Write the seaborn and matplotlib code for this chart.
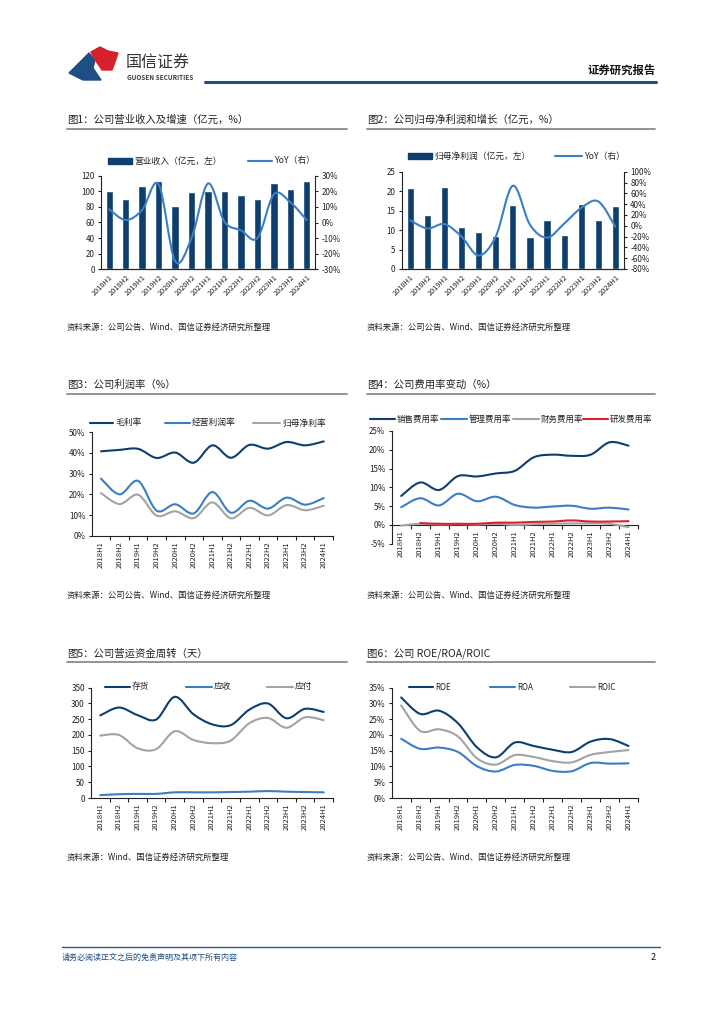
import numpy as np
import pandas as pd
import matplotlib
matplotlib.use('Agg')
import matplotlib.pyplot as plt
import seaborn as sns
from matplotlib.path import Path
from matplotlib.patches import PathPatch, Polygon, Rectangle
from matplotlib.lines import Line2D

# ---------------- data ----------------
periods = ['2018H1', '2018H2', '2019H1', '2019H2', '2020H1', '2020H2', '2021H1',
           '2021H2', '2022H1', '2022H2', '2023H1', '2023H2', '2024H1']

revenue = [100, 90, 107, 113, 81, 99, 101, 100, 95, 90, 111, 103, 113]
revenue_yoy = [8.4, 1.6, 8.0, 24.5, -24.7, -10.0, 25.0, 0.5, -5.0, -10.0, 18.0, 13.0, 1.5]

net_profit = [20.7, 13.8, 21.1, 10.8, 9.5, 8.4, 16.4, 8.3, 12.7, 8.8, 16.7, 12.7, 16.3]
net_profit_yoy = [10, -5, 3, -20, -55, -20, 74, 2, -22, 4, 33, 45, -2]

gross_margin = [40.8, 41.5, 42.0, 37.6, 40.2, 35.3, 43.7, 37.7, 43.9, 42.1, 45.3, 43.7, 45.6]
op_margin = [27.6, 20.0, 26.5, 12.1, 15.2, 10.8, 21.1, 11.1, 16.9, 13.1, 18.4, 15.0, 18.2]
net_margin = [20.6, 15.3, 19.8, 9.7, 11.8, 8.5, 16.1, 8.4, 13.5, 9.8, 14.8, 12.3, 14.5]

selling_ratio = [7.7, 11.3, 9.3, 13.0, 12.9, 13.7, 14.4, 18.0, 18.7, 18.4, 18.7, 22.0, 21.1]
admin_ratio = [4.7, 7.1, 5.2, 8.3, 6.3, 7.5, 5.3, 4.6, 4.9, 5.1, 4.3, 4.6, 4.1]
finance_ratio = [-0.2, 0.3, 0.1, 0.2, 0.1, 0.3, 0.0, 0.2, 0.3, 0.4, 0.4, 0.3, -0.6]
rd_ratio = [np.nan, 0.5, 0.3, 0.3, 0.3, 0.6, 0.6, 0.8, 0.9, 1.2, 0.9, 0.9, 1.0]

inventory_days = [262, 287, 263, 249, 321, 266, 234, 231, 280, 300, 253, 283, 273]
receivable_days = [9, 12, 13, 13, 18, 18, 18, 19, 20, 22, 20, 19, 18]
payable_days = [198, 200, 158, 155, 212, 184, 174, 182, 237, 254, 223, 256, 247]

roe = [31.9, 26.7, 27.7, 23.7, 16.1, 12.9, 17.6, 16.5, 15.3, 14.6, 17.9, 18.7, 16.5]
roa = [18.8, 15.6, 16.0, 14.6, 10.1, 8.4, 10.5, 10.2, 8.6, 8.5, 11.1, 10.9, 11.0]
roic = [29.4, 21.3, 21.8, 19.5, 12.6, 10.6, 13.6, 13.0, 11.7, 11.3, 13.7, 14.6, 15.2]

# ---------------- style ----------------
sns.set_theme(style='ticks')
plt.rcParams['font.family'] = ['Noto Sans CJK SC', 'DejaVu Sans']
plt.rcParams['axes.unicode_minus'] = False
plt.rcParams['axes.linewidth'] = 0.8
plt.rcParams['xtick.color'] = '#222222'
plt.rcParams['ytick.color'] = '#222222'

NAVY = '#0d3e6e'
BLUE = '#3a7fc6'
GRAY = '#a3a3a3'
RED = '#d8232f'
TXT = '#222222'

W, H = 724, 1024
fig = plt.figure(figsize=(7.24, 10.24), dpi=100)


def rect(x0, y0, x1, y1):
    return [x0 / W, 1 - y1 / H, (x1 - x0) / W, (y1 - y0) / H]


def fx(x):
    return x / W


def fy(y):
    return 1 - y / H


def smooth(ax, ys, color, lw=1.5, zorder=3):
    pts = [(i, v) for i, v in enumerate(ys) if not np.isnan(v)]
    P = np.array(pts, dtype=float)
    n = len(P)
    verts = [P[0]]
    codes = [Path.MOVETO]
    for i in range(n - 1):
        p0 = P[i - 1] if i > 0 else P[i]
        p1 = P[i]
        p2 = P[i + 1]
        p3 = P[i + 2] if i + 2 < n else P[i + 1]
        c1 = p1 + (p2 - p0) / 6.0
        c2 = p2 - (p3 - p1) / 6.0
        verts += [c1, c2, p2]
        codes += [Path.CURVE4] * 3
    ax.add_patch(PathPatch(Path(verts, codes), fill=False, edgecolor=color,
                           lw=lw, capstyle='round', joinstyle='round', zorder=zorder))


def leg_line(x0, x1, y, color, label, lw=1.5, fs=6.3):
    fig.add_artist(Line2D([fx(x0), fx(x1)], [fy(y), fy(y)], color=color, lw=lw,
                          transform=fig.transFigure))
    fig.text(fx(x1 + 2), fy(y), label, fontsize=fs, va='center', ha='left', color=TXT)


def leg_box(x0, x1, y, color, label, h=6, fs=6.3):
    fig.add_artist(Rectangle((fx(x0), fy(y + h / 2)), fx(x1) - fx(x0), h / H,
                             color=color, transform=fig.transFigure))
    fig.text(fx(x1 + 2), fy(y), label, fontsize=fs, va='center', ha='left', color=TXT)


def title(x0, x1, y, text, line_y):
    fig.text(fx(x0), fy(y), text, fontsize=7.5, va='center', ha='left', color=TXT)
    fig.add_artist(Line2D([fx(x0), fx(x1)], [fy(line_y), fy(line_y)], color='#8a8a8a',
                          lw=1.3, transform=fig.transFigure))


def source(x0, y, text):
    fig.text(fx(x0), fy(y), text, fontsize=6, va='center', ha='left', color=TXT)


def pct(vals):
    return ['%d%%' % v for v in vals]


def line_axes(r, ylim, yticks, ylabels, zero_spine=False):
    ax = fig.add_axes(r)
    sns.despine(ax=ax)
    if zero_spine:
        ax.spines['bottom'].set_position(('data', 0))
    ax.set_xlim(-0.5, 12.5)
    ax.set_ylim(*ylim)
    ax.set_xticks(range(13))
    ax.set_xticklabels(periods, rotation=90, fontsize=5.5, color=TXT)
    ax.tick_params(axis='x', which='major', length=0, pad=4)
    ax.set_xticks(np.arange(0.5, 13, 1), minor=True)
    ax.tick_params(axis='x', which='minor', length=3, width=0.8, direction='out')
    ax.set_yticks(yticks)
    ax.set_yticklabels(ylabels, fontsize=5.8, color=TXT)
    ax.tick_params(axis='y', length=2.5, width=0.8, direction='out', pad=2)
    for s in ['left', 'bottom']:
        ax.spines[s].set_color('#222222')
    return ax


# ---------------- header ----------------
fig.add_artist(Polygon([(fx(69), fy(73)), (fx(89), fy(53)), (fx(95), fy(60)),
                        (fx(93), fy(68)), (fx(101), fy(80)), (fx(83), fy(80))],
                       closed=True, color='#1d4f86', transform=fig.transFigure))
fig.add_artist(Polygon([(fx(91), fy(52)), (fx(100), fy(47)), (fx(108), fy(51)),
                        (fx(118), fy(53)), (fx(115), fy(62)), (fx(112), fy(70)),
                        (fx(102), fy(70)), (fx(96), fy(61))],
                       closed=True, color='#d8202c', transform=fig.transFigure))
fig.text(fx(126), fy(63), '国信证券', fontsize=11.5, va='center', ha='left', color='#333333',
         fontweight='medium')
fig.text(fx(127), fy(77), 'GUOSEN SECURITIES', fontsize=4.6, va='center', ha='left',
         color='#3c3c3c', fontweight='bold')
fig.text(fx(656), fy(70), '证券研究报告', fontsize=8.2, va='center', ha='right',
         color='#111111', fontweight='bold')
fig.add_artist(Line2D([fx(205), fx(656)], [fy(81.5), fy(81.5)], color='#1f4f82', lw=2.2,
                      transform=fig.transFigure))

# ---------------- Fig 1 ----------------
title(67, 347, 120, '图1：公司营业收入及增速（亿元，%）', 128.5)
ax1 = fig.add_axes(rect(101, 175.7, 315, 269.3))
df1 = pd.DataFrame({'period': periods, 'value': revenue})
sns.barplot(data=df1, x='period', y='value', color=NAVY, width=0.45, saturation=1, ax=ax1)
ax1.set_xlim(-0.5, 12.5)
ax1.set_ylim(0, 120)
ax1.set_xlabel('')
ax1.set_ylabel('')
ax1.set_yticks(range(0, 121, 20))
ax1.set_yticklabels([str(v) for v in range(0, 121, 20)], fontsize=5.8, color=TXT)
ax1.set_xticks(range(13))
ax1.set_xticklabels(periods, rotation=45, ha='right', rotation_mode='anchor', fontsize=5.3, color=TXT)
ax1.tick_params(axis='x', length=0, pad=3)
ax1.tick_params(axis='y', length=2.5, width=0.8, direction='out', pad=2)
ax1.spines['top'].set_visible(False)
ax1.spines['right'].set_visible(False)
ax1b = ax1.twinx()
smooth(ax1b, revenue_yoy, BLUE)
ax1b.set_ylim(-30, 30)
ax1b.set_yticks(range(-30, 31, 10))
ax1b.set_yticklabels(pct(range(-30, 31, 10)), fontsize=5.8, color=TXT)
ax1b.tick_params(axis='y', length=2.5, width=0.8, direction='out', pad=2)
ax1b.spines['top'].set_visible(False)
ax1b.spines['left'].set_visible(False)
ax1b.spines['right'].set_color('#222222')
ax1.spines['left'].set_color('#222222')
ax1.spines['bottom'].set_color('#222222')
leg_box(108, 132, 161, NAVY, '营业收入（亿元，左）')
leg_line(248, 272, 161, BLUE, 'YoY（右）')
source(67, 327, '资料来源：公司公告、Wind、国信证券经济研究所整理')

# ---------------- Fig 2 ----------------
title(367, 655, 120, '图2：公司归母净利润和增长（亿元，%）', 128.5)
ax2 = fig.add_axes(rect(401.7, 171.7, 624, 269))
df2 = pd.DataFrame({'period': periods, 'value': net_profit})
sns.barplot(data=df2, x='period', y='value', color=NAVY, width=0.42, saturation=1, ax=ax2)
ax2.set_xlim(-0.5, 12.5)
ax2.set_ylim(0, 25)
ax2.set_xlabel('')
ax2.set_ylabel('')
ax2.set_yticks(range(0, 26, 5))
ax2.set_yticklabels([str(v) for v in range(0, 26, 5)], fontsize=5.8, color=TXT)
ax2.set_xticks(range(13))
ax2.set_xticklabels(periods, rotation=45, ha='right', rotation_mode='anchor', fontsize=5.3, color=TXT)
ax2.tick_params(axis='x', length=0, pad=3)
ax2.tick_params(axis='y', length=2.5, width=0.8, direction='out', pad=2)
ax2.spines['top'].set_visible(False)
ax2.spines['right'].set_visible(False)
ax2.spines['left'].set_color('#222222')
ax2.spines['bottom'].set_color('#222222')
ax2b = ax2.twinx()
smooth(ax2b, net_profit_yoy, BLUE)
ax2b.set_ylim(-80, 100)
ax2b.set_yticks(range(-80, 101, 20))
ax2b.set_yticklabels(pct(range(-80, 101, 20)), fontsize=5.8, color=TXT)
ax2b.tick_params(axis='y', length=2.5, width=0.8, direction='out', pad=2)
ax2b.spines['top'].set_visible(False)
ax2b.spines['left'].set_visible(False)
ax2b.spines['right'].set_color('#222222')
leg_box(408, 432, 156, NAVY, '归母净利润（亿元，左）')
leg_line(555, 582, 156, BLUE, 'YoY（右）')
source(367, 327, '资料来源：公司公告、Wind、国信证券经济研究所整理')

# ---------------- Fig 3 ----------------
title(67, 347, 385, '图3：公司利润率（%）', 394)
ax3 = line_axes(rect(91.7, 432.3, 333, 535.7), (0, 50), range(0, 51, 10), pct(range(0, 51, 10)))
smooth(ax3, gross_margin, NAVY)
smooth(ax3, op_margin, BLUE)
smooth(ax3, net_margin, GRAY)
leg_line(90, 113, 423, NAVY, '毛利率')
leg_line(165, 190, 423, BLUE, '经营利润率')
leg_line(253, 280, 423, GRAY, '归母净利率')
source(67, 595, '资料来源：公司公告、Wind、国信证券经济研究所整理')

# ---------------- Fig 4 ----------------
title(367, 655, 385, '图4：公司费用率变动（%）', 394)
ax4 = line_axes(rect(391.7, 431, 638, 543.7), (-5, 25), range(-5, 26, 5), pct(range(-5, 26, 5)),
                zero_spine=True)
smooth(ax4, selling_ratio, NAVY)
smooth(ax4, admin_ratio, BLUE)
smooth(ax4, finance_ratio, GRAY)
smooth(ax4, rd_ratio, RED)
leg_line(370, 395, 419, NAVY, '销售费用率', fs=6.1)
leg_line(441, 467, 419, BLUE, '管理费用率', fs=6.1)
leg_line(513, 539, 419, GRAY, '财务费用率', fs=6.1)
leg_line(583, 608, 419, RED, '研发费用率', fs=6.1)
source(367, 595, '资料来源：公司公告、Wind、国信证券经济研究所整理')

# ---------------- Fig 5 ----------------
title(67, 347, 654, '图5：公司营运资金周转（天）', 662)
ax5 = line_axes(rect(91, 687.7, 333, 798), (0, 350), range(0, 351, 50),
                [str(v) for v in range(0, 351, 50)])
smooth(ax5, inventory_days, NAVY)
smooth(ax5, receivable_days, BLUE)
smooth(ax5, payable_days, GRAY)
leg_line(105, 130, 687, NAVY, '存货')
leg_line(186, 212, 687, BLUE, '应收')
leg_line(267, 293, 687, GRAY, '应付')
source(67, 857, '资料来源：Wind、国信证券经济研究所整理')

# ---------------- Fig 6 ----------------
title(367, 655, 654, '图6：公司 ROE/ROA/ROIC', 662)
ax6 = line_axes(rect(391.7, 687.7, 638, 798), (0, 35), range(0, 36, 5), pct(range(0, 36, 5)))
smooth(ax6, roe, NAVY)
smooth(ax6, roa, BLUE)
smooth(ax6, roic, GRAY)
leg_line(409, 433, 687, NAVY, 'ROE', fs=5.8)
leg_line(490, 515, 687, BLUE, 'ROA', fs=5.8)
leg_line(570, 595, 687, GRAY, 'ROIC', fs=5.8)
source(367, 857, '资料来源：公司公告、Wind、国信证券经济研究所整理')

# ---------------- footer ----------------
fig.add_artist(Line2D([fx(62), fx(660)], [fy(947), fy(947)], color='#2a5b8c', lw=1.0,
                      transform=fig.transFigure))
fig.text(fx(62), fy(957), '请务必阅读正文之后的免责声明及其项下所有内容', fontsize=5.8,
         va='center', ha='left', color='#1f4f82', style='italic')
fig.text(fx(656), fy(957), '2', fontsize=6.5, va='center', ha='right', color='#111111')

fig.savefig('out.png', dpi=100)
